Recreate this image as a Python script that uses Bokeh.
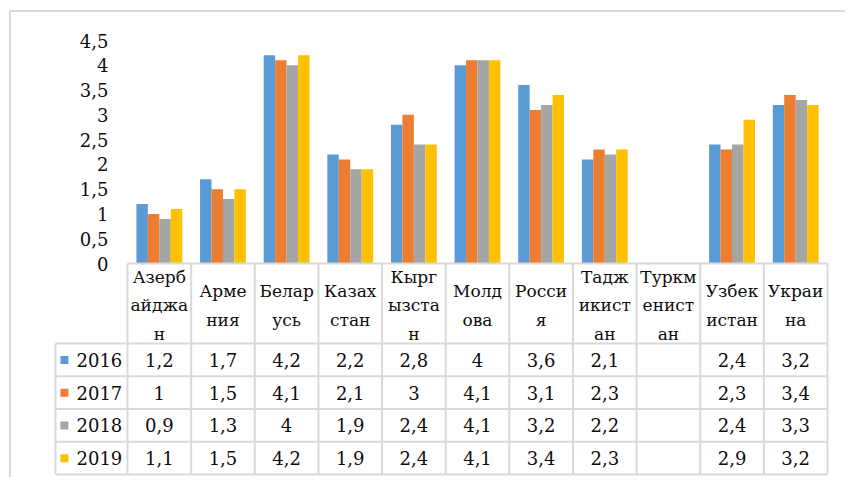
from bokeh.plotting import figure
from bokeh.models import ColumnDataSource, Range1d, FixedTicker, CustomJSTickFormatter
from bokeh.embed import file_html
from bokeh.resources import INLINE
from bokeh.core.properties import value

# ---------------- data ----------------
countries = ["Азербайджан", "Армения", "Беларусь", "Казахстан", "Кыргызстан",
             "Молдова", "Россия", "Таджикистан", "Туркменистан", "Узбекистан", "Украина"]
header_labels = ["Азерб\nайджа\nн", "Арме\nния", "Белар\nусь", "Казах\nстан",
                 "Кырг\nызста\nн", "Молд\nова", "Росси\nя", "Тадж\nикист\nан",
                 "Туркм\nенист\nан", "Узбек\nистан", "Украи\nна"]
years = ["2016", "2017", "2018", "2019"]
v2016 = [1.2, 1.7, 4.2, 2.2, 2.8, 4.0, 3.6, 2.1, None, 2.4, 3.2]
v2017 = [1.0, 1.5, 4.1, 2.1, 3.0, 4.1, 3.1, 2.3, None, 2.3, 3.4]
v2018 = [0.9, 1.3, 4.0, 1.9, 2.4, 4.1, 3.2, 2.2, None, 2.4, 3.3]
v2019 = [1.1, 1.5, 4.2, 1.9, 2.4, 4.1, 3.4, 2.3, None, 2.9, 3.2]
y_ticks = [0, 0.5, 1, 1.5, 2, 2.5, 3, 3.5, 4, 4.5]

series = [v2016, v2017, v2018, v2019]
colors = ["#5B9BD5", "#ED7D31", "#A5A5A5", "#FFC000"]
TXT = "#0d0d0d"
GRID = "#d9d9d9"
FONT_NAME = "DejaVu Serif"
FONT = value(FONT_NAME)
FS = "18px"
FS_HEAD = "17px"

n = len(countries)
bar_w = 0.18
offsets = [-0.27, -0.09, 0.09, 0.27]

# layout helpers: pixel sizes converted to value units
PXY = 223 / 4.5           # pixels per y unit
PXX = 700 / 11            # pixels per category column
W, H = 845, 477
x_lo = -127 / PXX                 # frame covers the whole figure
x_hi = x_lo + W / PXX
y_hi = 4.5 + 40 / PXY
y_lo = y_hi - H / PXY
header_h = 80 / PXY
row_h = 32.75 / PXY
x_tab = -(127 - 55) / PXX
y_bottom = -(header_h + 4 * row_h)

p = figure(width=W, height=H, x_range=Range1d(x_lo, x_hi), y_range=Range1d(y_lo, y_hi),
           output_backend="svg", toolbar_location=None,
           x_axis_location=None, y_axis_location="left",
           min_border_left=0, min_border_right=0, min_border_top=0, min_border_bottom=0)
p.grid.visible = False
p.outline_line_color = None

# outer chart border (top and left)
bx = x_lo + 9.5 / PXX
by = y_hi - 10.5 / PXY
p.segment(x0=[bx, bx], y0=[by, by], x1=[x_hi, bx], y1=[by, y_lo],
          line_color=GRID, line_width=2)

# bars
for vals, col, off in zip(series, colors, offsets):
    xs = [i + 0.5 + off for i, v in enumerate(vals) if v is not None]
    tops = [v for v in vals if v is not None]
    src = ColumnDataSource(dict(x=xs, top=tops))
    p.vbar(x="x", top="top", bottom=0, width=bar_w, source=src,
           fill_color=col, line_color=None)

ya = p.yaxis[0]
ya.ticker = FixedTicker(ticks=y_ticks)
ya.formatter = CustomJSTickFormatter(code="return tick.toString().replace('.', ',');")
ya.axis_line_color = None
ya.major_tick_line_color = None
ya.minor_tick_line_color = None
ya.major_tick_out = 0
ya.minor_tick_out = 0
ya.major_label_standoff = -108
ya.major_label_text_font = FONT_NAME
ya.major_label_text_font_size = FS
ya.major_label_text_color = TXT

# table grid
x0, y0, x1, y1 = [], [], [], []
for i in range(n + 1):
    x0.append(i); x1.append(i); y0.append(0); y1.append(y_bottom)
x0.append(x_tab); x1.append(x_tab); y0.append(-header_h); y1.append(y_bottom)
x0.append(0); x1.append(n); y0.append(0); y1.append(0)
for k in range(5):
    yy = -header_h - k * row_h
    x0.append(x_tab); x1.append(n); y0.append(yy); y1.append(yy)
p.segment(x0=x0, y0=y0, x1=x1, y1=y1, line_color=GRID, line_width=2)

# header
p.text(x=[i + 0.5 for i in range(n)], y=[-42 / PXY] * n, text=header_labels,
       text_align="center", text_baseline="middle", text_font=FONT,
       text_font_size=FS_HEAD, text_line_height=1.41, text_color=TXT)

# rows
for k, (vals, col, yr) in enumerate(zip(series, colors, years)):
    yc = -header_h - row_h * k - row_h / 2
    xs = [i + 0.5 for i, v in enumerate(vals) if v is not None]
    labels = [f"{v:g}".replace(".", ",") for v in vals if v is not None]
    p.text(x=xs, y=[yc] * len(xs), text=labels, text_align="center",
           text_baseline="middle", text_font=FONT, text_font_size=FS, text_color=TXT)
    p.scatter(x=[x_tab + 0.14], y=[yc], marker="square", size=8,
              fill_color=col, line_color=None)
    p.text(x=[x_tab + 0.33], y=[yc], text=[yr], text_align="left",
           text_baseline="middle", text_font=FONT, text_font_size=FS, text_color=TXT)

open("out.html", "w").write(file_html(p, INLINE))
